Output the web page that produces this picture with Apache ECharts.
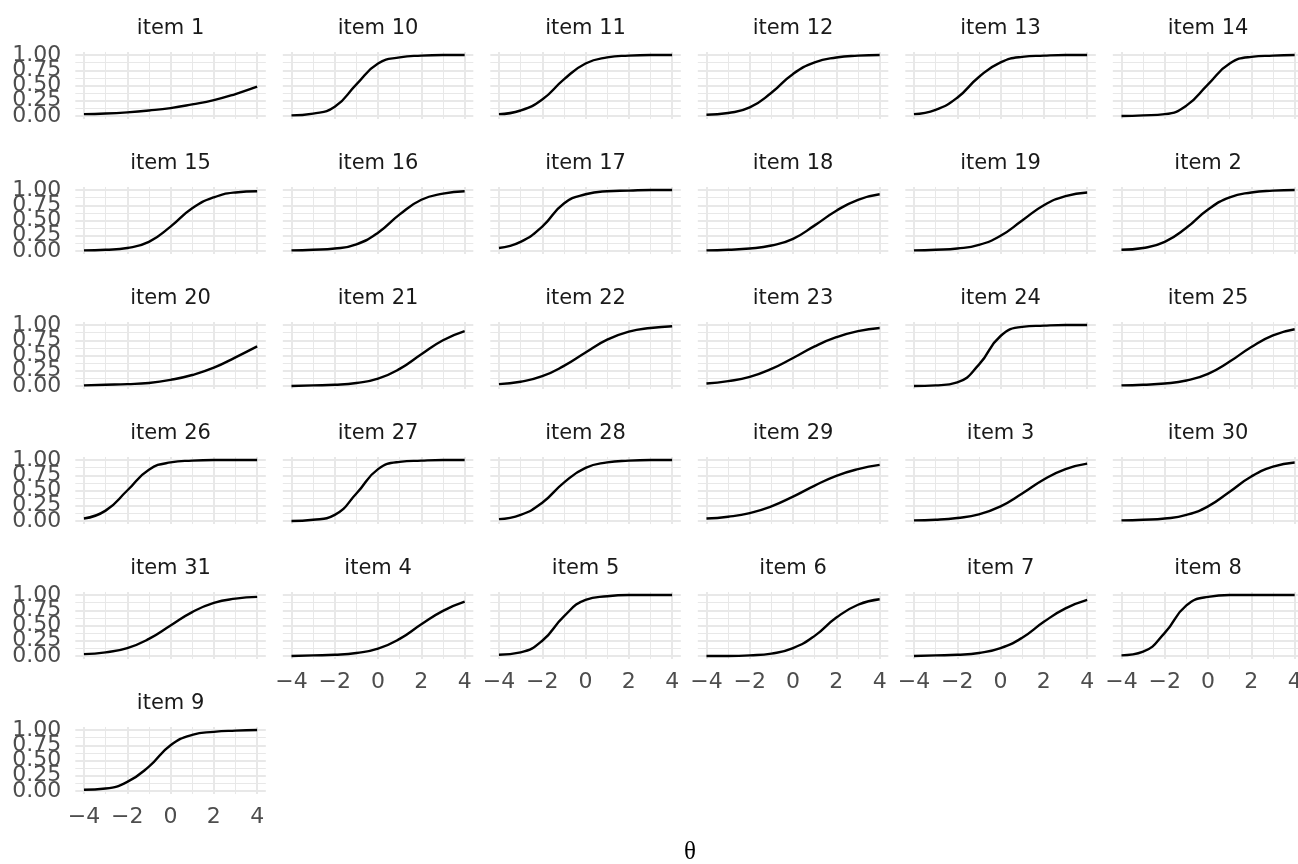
<!DOCTYPE html>
<html><head><meta charset="utf-8">
<script src="https://cdn.jsdelivr.net/npm/echarts@6/dist/echarts.min.js"></script>
<style>html,body{margin:0;padding:0;background:#fff}#c{width:1298px;height:864px}</style>
</head><body><div id="c"></div>
<script>
// θ grid at which the curves were read
const theta = [-4, -3, -2, -1, 0, 1, 2, 3, 4];
// probability readings per item
const item1  = [0.03, 0.04, 0.06, 0.09, 0.13, 0.19, 0.26, 0.36, 0.48];
const item10 = [0.01, 0.04, 0.15, 0.52, 0.86, 0.96, 0.99, 1.00, 1.00];
const item11 = [0.03, 0.09, 0.27, 0.60, 0.86, 0.96, 0.99, 1.00, 1.00];
const item12 = [0.02, 0.05, 0.14, 0.38, 0.69, 0.88, 0.96, 0.99, 1.00];
const item13 = [0.03, 0.10, 0.30, 0.64, 0.88, 0.97, 0.99, 1.00, 1.00];
const item14 = [0.00, 0.01, 0.03, 0.17, 0.52, 0.86, 0.97, 0.99, 1.00];
const item15 = [0.01, 0.02, 0.05, 0.15, 0.40, 0.70, 0.88, 0.96, 0.98];
const item16 = [0.01, 0.02, 0.04, 0.11, 0.30, 0.60, 0.84, 0.94, 0.98];
const item17 = [0.05, 0.15, 0.40, 0.78, 0.93, 0.98, 0.99, 1.00, 1.00];
const item18 = [0.01, 0.02, 0.04, 0.09, 0.20, 0.42, 0.66, 0.84, 0.93];
const item19 = [0.01, 0.02, 0.04, 0.10, 0.25, 0.50, 0.75, 0.90, 0.96];
const item2  = [0.02, 0.05, 0.15, 0.38, 0.68, 0.88, 0.96, 0.99, 1.00];
const item20 = [0.01, 0.02, 0.03, 0.05, 0.10, 0.18, 0.30, 0.47, 0.65];
const item21 = [0.00, 0.01, 0.02, 0.05, 0.12, 0.28, 0.52, 0.75, 0.90];
const item22 = [0.03, 0.07, 0.16, 0.33, 0.55, 0.76, 0.89, 0.95, 0.98];
const item23 = [0.04, 0.08, 0.15, 0.28, 0.46, 0.65, 0.80, 0.90, 0.95];
const item24 = [0.00, 0.01, 0.06, 0.35, 0.82, 0.97, 0.99, 1.00, 1.00];
const item25 = [0.01, 0.02, 0.04, 0.09, 0.20, 0.40, 0.64, 0.83, 0.93];
const item26 = [0.04, 0.17, 0.50, 0.84, 0.96, 0.99, 1.00, 1.00, 1.00];
const item27 = [0.00, 0.02, 0.10, 0.45, 0.85, 0.97, 0.99, 1.00, 1.00];
const item28 = [0.03, 0.10, 0.30, 0.63, 0.87, 0.96, 0.99, 1.00, 1.00];
const item29 = [0.04, 0.07, 0.13, 0.24, 0.40, 0.58, 0.74, 0.85, 0.92];
const item3  = [0.01, 0.02, 0.05, 0.11, 0.24, 0.45, 0.68, 0.85, 0.94];
const item30 = [0.01, 0.02, 0.04, 0.10, 0.24, 0.48, 0.73, 0.89, 0.96];
const item31 = [0.03, 0.06, 0.13, 0.28, 0.50, 0.72, 0.87, 0.94, 0.97];
const item4  = [0.00, 0.01, 0.02, 0.05, 0.12, 0.28, 0.52, 0.74, 0.89];
const item5  = [0.02, 0.06, 0.25, 0.65, 0.92, 0.98, 1.00, 1.00, 1.00];
const item6  = [0.00, 0.00, 0.01, 0.04, 0.13, 0.33, 0.63, 0.84, 0.93];
const item7  = [0.00, 0.01, 0.02, 0.05, 0.13, 0.30, 0.56, 0.78, 0.92];
const item8  = [0.01, 0.07, 0.38, 0.83, 0.97, 1.00, 1.00, 1.00, 1.00];
const item9  = [0.02, 0.04, 0.15, 0.40, 0.75, 0.92, 0.97, 0.99, 1.00];

const panelOrder = ['item 1','item 10','item 11','item 12','item 13','item 14',
  'item 15','item 16','item 17','item 18','item 19','item 2',
  'item 20','item 21','item 22','item 23','item 24','item 25',
  'item 26','item 27','item 28','item 29','item 3','item 30',
  'item 31','item 4','item 5','item 6','item 7','item 8','item 9'];
const xMajor = [-4, -2, 0, 2, 4];
const xMinor = [-3, -1, 1, 3];
const yMajor = [0, 0.25, 0.5, 0.75, 1];
const yMinor = [0.125, 0.375, 0.625, 0.875];
const xLabel = 'θ';

const itemValues = {
  'item 1': item1, 'item 10': item10, 'item 11': item11, 'item 12': item12, 'item 13': item13,
  'item 14': item14, 'item 15': item15, 'item 16': item16, 'item 17': item17, 'item 18': item18,
  'item 19': item19, 'item 2': item2, 'item 20': item20, 'item 21': item21, 'item 22': item22,
  'item 23': item23, 'item 24': item24, 'item 25': item25, 'item 26': item26, 'item 27': item27,
  'item 28': item28, 'item 29': item29, 'item 3': item3, 'item 30': item30, 'item 31': item31,
  'item 4': item4, 'item 5': item5, 'item 6': item6, 'item 7': item7, 'item 8': item8, 'item 9': item9
};

// layout
const NCOL = 6;
const colX0 = 75.3, colPitch = 207.5, panelW = 190.5;
const rowY0 = 51.95, rowPitch = 135, panelH = 67.1;
const gridColor = '#e8e8e8';
const sansFont = 'DejaVu Sans';

const grids = [], xAxes = [], yAxes = [], series = [], graphics = [];
const fmtX = v => (v < 0 ? '\u2212' + Math.abs(v) : String(v));
const fmtY = v => v.toFixed(2);
// labels split over two axes so that ECharts does not drop overlapping ones
const yLabelsA = yMajor.filter((v, i) => i % 2 === 0);
const yLabelsB = yMajor.filter((v, i) => i % 2 === 1);

const yLabelStyle = { formatter: fmtY, fontSize: 22, color: '#4d4d4d', margin: 14,
  fontFamily: sansFont, showMinLabel: true, showMaxLabel: true, hideOverlap: false };

panelOrder.forEach((name, k) => {
  const r = Math.floor(k / NCOL), c = k % NCOL;
  const left = colX0 + colPitch * c, top = rowY0 + rowPitch * r;
  const isBottom = k + NCOL >= panelOrder.length;
  const isLeft = c === 0;
  grids.push({ left, top, width: panelW, height: panelH, outerBoundsMode: 'none' });

  const baseX = { type: 'value', gridIndex: k, min: -4.4, max: 4.4, position: 'bottom',
    offset: 0, axisLine: { show: false } };
  xAxes.push(Object.assign({}, baseX, {
    axisTick: { show: false, customValues: xMajor },
    axisLabel: { show: isBottom, customValues: xMajor, formatter: fmtX, fontSize: 22,
      color: '#4d4d4d', margin: 12, fontFamily: sansFont,
      showMinLabel: true, showMaxLabel: true, hideOverlap: false },
    splitLine: { show: true, lineStyle: { color: gridColor, width: 2 } }
  }));
  xAxes.push(Object.assign({}, baseX, {
    axisTick: { show: false, customValues: xMinor },
    axisLabel: { show: false },
    splitLine: { show: true, lineStyle: { color: gridColor, width: 1 } }
  }));
  const baseY = { type: 'value', gridIndex: k, min: -0.05, max: 1.05, position: 'left',
    offset: 0, axisLine: { show: false } };
  yAxes.push(Object.assign({}, baseY, {
    axisTick: { show: false, customValues: yMajor },
    axisLabel: Object.assign({ show: isLeft, customValues: yLabelsA }, yLabelStyle),
    splitLine: { show: true, lineStyle: { color: gridColor, width: 2 } }
  }));
  yAxes.push(Object.assign({}, baseY, {
    axisTick: { show: false, customValues: yMinor },
    axisLabel: Object.assign({ show: isLeft, customValues: yLabelsB }, yLabelStyle),
    splitLine: { show: true, lineStyle: { color: gridColor, width: 1 } }
  }));

  const vals = itemValues[name];
  series.push({
    type: 'line', name, xAxisIndex: 2 * k, yAxisIndex: 2 * k,
    data: theta.map((t, i) => [t, vals[i]]),
    showSymbol: false, smooth: 0.5,
    lineStyle: { color: '#000', width: 2.4 }, silent: true, animation: false, z: 5
  });

  graphics.push({
    type: 'text', x: left + panelW / 2, y: top - 23,
    style: { text: name, fontSize: 21, fontFamily: sansFont, fill: '#1a1a1a',
      textAlign: 'center', textVerticalAlign: 'middle' }
  });
});

graphics.push({
  type: 'text', x: 690, y: 852,
  style: { text: xLabel, fontSize: 25, fontFamily: 'Liberation Serif', fill: '#000',
    textAlign: 'center', textVerticalAlign: 'middle' }
});

const chart = echarts.init(document.getElementById('c'), null, { renderer: 'canvas' });
chart.setOption({
  animation: false,
  backgroundColor: '#fff',
  grid: grids, xAxis: xAxes, yAxis: yAxes, series, graphic: graphics
});
</script></body></html>
